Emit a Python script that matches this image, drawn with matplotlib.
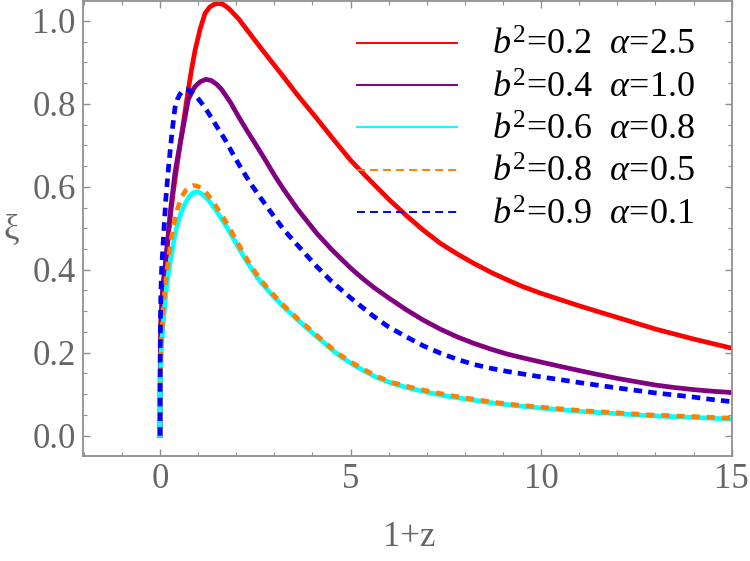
import matplotlib
matplotlib.use("Agg")
import matplotlib.pyplot as plt
from matplotlib.lines import Line2D
from matplotlib.ticker import MultipleLocator, FormatStrFormatter

plt.rcParams['font.family'] = ['Liberation Serif', 'DejaVu Serif']
plt.rcParams['mathtext.fontset'] = 'custom'
plt.rcParams['mathtext.rm'] = 'Liberation Serif'
plt.rcParams['mathtext.it'] = 'Liberation Serif:italic'

# --- data (x = 1+z, y = xi) ---
red_x = [0, 0.002, 0.008, 0.025, 0.06, 0.11, 0.17, 0.27, 0.35, 0.44, 0.57, 0.74, 0.83, 0.92,
         1.05, 1.18, 1.3, 1.42, 1.53, 1.65, 1.8, 2.06, 2.25, 2.49, 2.76, 3.0, 3.24, 3.6, 4.11,
         4.5, 4.99, 5.3, 5.6, 6.0, 6.47, 6.9, 7.35, 7.8, 8.22, 8.7, 9.1, 9.5, 9.97, 10.5, 11,
         11.46, 12, 12.5, 13, 13.5, 14, 14.5, 15]
red_y = [0, 0.1, 0.2, 0.28, 0.34, 0.39, 0.44, 0.53, 0.59, 0.649, 0.729, 0.834, 0.885, 0.93,
         0.98, 1.018, 1.033, 1.040, 1.042, 1.040, 1.03, 1.005, 0.982, 0.953, 0.921, 0.893, 0.865,
         0.822, 0.765, 0.72, 0.665, 0.635, 0.607, 0.57, 0.53, 0.496, 0.464, 0.438, 0.416, 0.393,
         0.376, 0.36, 0.344, 0.328, 0.313, 0.300, 0.285, 0.271, 0.257, 0.245, 0.233, 0.222, 0.211]

purple_x = [0, 0.002, 0.008, 0.025, 0.06, 0.11, 0.17, 0.27, 0.39, 0.48, 0.61, 0.74, 0.83, 0.92,
            1.05, 1.2, 1.35, 1.5, 1.62, 1.85, 2.06, 2.27, 2.49, 2.76, 3.0, 3.24, 3.6, 4.11, 4.5,
            4.99, 5.3, 5.6, 6.0, 6.47, 6.9, 7.35, 7.8, 8.22, 8.7, 9.1, 9.5, 9.97, 10.5, 11,
            11.46, 12, 12.5, 13, 13.5, 14, 14.5, 15]
purple_y = [0, 0.1, 0.2, 0.28, 0.34, 0.39, 0.44, 0.54, 0.633, 0.681, 0.745, 0.81, 0.828, 0.842,
            0.853, 0.859, 0.856, 0.846, 0.834, 0.803, 0.769, 0.737, 0.705, 0.665, 0.628, 0.594,
            0.547, 0.488, 0.449, 0.405, 0.38, 0.358, 0.332, 0.303, 0.279, 0.257, 0.238, 0.223,
            0.208, 0.197, 0.188, 0.178, 0.167, 0.157, 0.148, 0.138, 0.130, 0.122, 0.116, 0.111,
            0.107, 0.104]

cyan_x = [0, 0.003, 0.012, 0.03, 0.06, 0.09, 0.13, 0.17, 0.24, 0.31, 0.37, 0.44, 0.55, 0.66,
          0.76, 0.86, 0.96, 1.06, 1.16, 1.26, 1.36, 1.49, 1.62, 1.8, 2.0, 2.18, 2.36, 2.6, 2.9,
          3.24, 3.6, 4.11, 4.5, 4.72, 5.0, 5.3, 5.69, 6.1, 6.56, 7.1, 7.61, 8.2, 8.8, 9.36, 10.2,
          11.11, 12, 12.86, 14, 15]
cyan_y = [0, 0.08, 0.15, 0.2, 0.245, 0.279, 0.322, 0.359, 0.405, 0.44, 0.474, 0.504, 0.537,
          0.56, 0.576, 0.585, 0.588, 0.585, 0.578, 0.569, 0.557, 0.54, 0.522, 0.495, 0.463,
          0.434, 0.408, 0.375, 0.343, 0.311, 0.28, 0.239, 0.208, 0.192, 0.175, 0.159, 0.140,
          0.126, 0.114, 0.103, 0.094, 0.086, 0.078, 0.072, 0.065, 0.058, 0.053, 0.048, 0.044,
          0.04]

orange_x = [0, 0.003, 0.012, 0.03, 0.07, 0.11, 0.16, 0.22, 0.28, 0.35, 0.45, 0.57, 0.68, 0.78,
            0.87, 0.96, 1.06, 1.16, 1.26, 1.36, 1.49, 1.62, 1.8, 2.0, 2.18, 2.36, 2.6, 2.9, 3.24,
            3.6, 4.11, 4.5, 4.72, 5.0, 5.3, 5.69, 6.1, 6.56, 7.1, 7.61, 8.2, 8.8, 9.36, 10.2,
            11.11, 12, 12.86, 14, 15]
orange_y = [0, 0.1, 0.16, 0.22, 0.285, 0.335, 0.382, 0.424, 0.466, 0.504, 0.545, 0.576, 0.592,
            0.6, 0.603, 0.602, 0.598, 0.591, 0.58, 0.568, 0.55, 0.532, 0.504, 0.471, 0.441,
            0.413, 0.38, 0.347, 0.314, 0.283, 0.242, 0.211, 0.195, 0.178, 0.162, 0.143, 0.128,
            0.117, 0.106, 0.097, 0.088, 0.08, 0.074, 0.067, 0.06, 0.055, 0.05, 0.046, 0.042]

blue_x = [0, 0.001, 0.004, 0.01, 0.02, 0.04, 0.09, 0.15, 0.22, 0.31, 0.39, 0.45, 0.52, 0.59,
          0.66, 0.73, 0.8, 0.88, 0.96, 1.08, 1.22, 1.35, 1.49, 1.71, 1.9, 2.1, 2.36, 2.6, 2.9,
          3.24, 3.6, 4.11, 4.5, 4.99, 5.3, 5.6, 6.0, 6.47, 6.9, 7.35, 7.8, 8.22, 8.7, 9.1, 9.5,
          9.97, 10.5, 11, 11.46, 12, 12.5, 13, 13.5, 14, 14.5, 15]
blue_y = [0, 0.1, 0.2, 0.28, 0.34, 0.40, 0.48, 0.57, 0.645, 0.729, 0.79, 0.81, 0.823, 0.831,
          0.835, 0.834, 0.83, 0.824, 0.817, 0.803, 0.785, 0.766, 0.745, 0.713, 0.681, 0.649,
          0.61, 0.578, 0.54, 0.497, 0.46, 0.408, 0.372, 0.333, 0.31, 0.288, 0.262, 0.238, 0.217,
          0.199, 0.184, 0.172, 0.162, 0.155, 0.149, 0.142, 0.135, 0.128, 0.122, 0.115, 0.109,
          0.103, 0.098, 0.093, 0.087, 0.082]

labels = [r"$b^2$=0.2  $\alpha$=2.5", r"$b^2$=0.4  $\alpha$=1.0", r"$b^2$=0.6  $\alpha$=0.8",
          r"$b^2$=0.8  $\alpha$=0.5", r"$b^2$=0.9  $\alpha$=0.1"]

RED = "#ff0000"
PURPLE = "#800080"
CYAN = "#00ffff"
ORANGE = "#ff8000"
BLUE = "#0000ff"
GRAY = "#666666"

fig = plt.figure(figsize=(7.5, 5.61), dpi=100)
ax = fig.add_axes([0.1103, 0.1872, 0.8657, 0.8111])

lw = 3.4
ax.plot(red_x, red_y, color=RED, lw=lw)
ax.plot(purple_x, purple_y, color=PURPLE, lw=lw)
ax.plot(cyan_x, cyan_y, color=CYAN, lw=lw)
ax.plot(orange_x, orange_y, color=ORANGE, lw=lw, dashes=(1.7, 1.5))
ax.plot(blue_x, blue_y, color=BLUE, lw=lw, dashes=(1.8, 1.3))

ax.set_xlim(-2.03, 15.01)
ax.set_ylim(-0.049, 1.048)

# --- frame / ticks ---
ax.xaxis.set_major_locator(MultipleLocator(5))
ax.xaxis.set_minor_locator(MultipleLocator(1))
ax.yaxis.set_major_locator(MultipleLocator(0.2))
ax.yaxis.set_minor_locator(MultipleLocator(0.05))
ax.yaxis.set_major_formatter(FormatStrFormatter("%.1f"))
for s in ax.spines.values():
    s.set_color("#909090")
    s.set_linewidth(1.3)
ax.tick_params(which="both", direction="in", top=True, right=True, color="#909090",
               labelcolor=GRAY, labelsize=25, pad=5)
ax.tick_params(which="major", length=5, width=1)
ax.tick_params(which="minor", length=3, width=0.8)

fig.text(409 / 750, 1 - 537 / 561, "1+z", ha="center", va="center", fontsize=25, color=GRAY)
fig.text(11 / 750, 1 - 230 / 561, "ξ", ha="center", va="center", fontsize=25, color=GRAY)

# --- legend (thin proxy lines like the original) ---
handles = [
    Line2D([], [], color=RED, lw=1.4),
    Line2D([], [], color=PURPLE, lw=1.4),
    Line2D([], [], color=CYAN, lw=1.4),
    Line2D([], [], color=ORANGE, lw=1.4, dashes=(4.1, 2.6)),
    Line2D([], [], color=BLUE, lw=1.4, dashes=(4.1, 2.6)),
]
ax.legend(handles, labels, loc="upper left", bbox_to_anchor=(357 / 750, 1 - 30 / 561),
          bbox_transform=fig.transFigure, frameon=False, fontsize=26, borderpad=0,
          borderaxespad=0, handlelength=2.77, handletextpad=0.97, labelspacing=0.25)

fig.savefig("out.png", dpi=100)
